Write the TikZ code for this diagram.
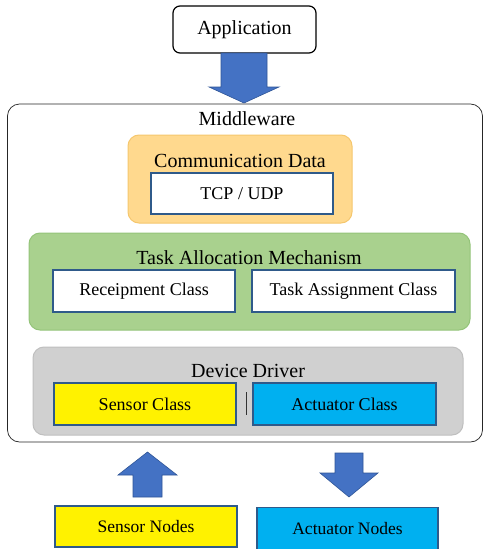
\documentclass[tikz,border=0pt]{standalone}
\usepackage{fontspec}
\setmainfont{Liberation Serif}
\usetikzlibrary{shapes.arrows}
\definecolor{orfill}{HTML}{FFD98E}
\definecolor{ordraw}{HTML}{F5C76E}
\definecolor{grfill}{HTML}{A9D18E}
\definecolor{grdraw}{HTML}{94C47A}
\definecolor{gyfill}{HTML}{D0D0D0}
\definecolor{gydraw}{HTML}{BFBFBF}
\definecolor{arrfill}{HTML}{4472C4}
\definecolor{arrdraw}{HTML}{2F5597}
\definecolor{innerdraw}{HTML}{2F5A8A}
\definecolor{cyanfill}{HTML}{00B0F0}
\begin{document}
\begin{tikzpicture}[x=1pt,y=-1pt,
  box/.style={draw, inner sep=0pt, outer sep=0pt},
  title/.style={inner sep=0pt, font=\fontsize{20}{22}\selectfont},
  inner/.style={draw=innerdraw, line width=1.2pt, inner sep=0pt, font=\fontsize{18}{20}\selectfont},
  bigarrow/.style={fill=arrfill, draw=arrdraw, line width=0.6pt, line join=miter}]
\fill[white] (0,0) rectangle (483,549);
\useasboundingbox (0,0) rectangle (483,549);
% Application
\node[draw=black, line width=1.2pt, rounded corners=7pt, minimum width=143pt, minimum height=47pt, inner sep=0pt, font=\fontsize{20}{22}\selectfont] (app) at (244.5,29.5) {Application};
% Middleware container
\node[draw=black!85, line width=0.7pt, rounded corners=12pt, minimum width=475pt, minimum height=338pt, inner sep=0pt] (mw) at (245,273) {};
\node[title] (mwt) at (247,119) {Middleware};
% Communication Data
\node[fill=orfill, draw=ordraw, line width=1pt, rounded corners=11pt, minimum width=224pt, minimum height=88pt, inner sep=0pt] (cd) at (240,179) {};
\node[title] (cdt) at (240,161) {Communication Data};
\node[inner, fill=white, minimum width=182pt, minimum height=41pt] (tcp) at (242,193.5) {TCP / UDP};
% Task Allocation
\node[fill=grfill, draw=grdraw, line width=1pt, rounded corners=11pt, minimum width=441pt, minimum height=97pt, inner sep=0pt] (ta) at (249.5,281.5) {};
\node[title] (tat) at (249,258) {Task Allocation Mechanism};
\node[inner, fill=white, minimum width=182pt, minimum height=42pt] (rc) at (144,291) {Receipment Class};
\node[inner, fill=white, minimum width=203pt, minimum height=42pt] (tac) at (353.5,291) {Task Assignment Class};
% Device Driver
\node[fill=gyfill, draw=gydraw, line width=1pt, rounded corners=11pt, minimum width=430pt, minimum height=88pt, inner sep=0pt] (dd) at (248,391) {};
\node[title] (ddt) at (248,371) {Device Driver};
\node[inner, fill=yellow, minimum width=182pt, minimum height=42pt] (sc) at (145,404) {Sensor Class};
\node[inner, fill=cyanfill, minimum width=183pt, minimum height=42pt] (ac) at (344.5,404) {Actuator Class};
\coordinate (sepT) at (246,392);
\coordinate (sepB) at (246,415);
\draw[black!80, line width=0.8pt] (sepT) -- (sepB);
% Bottom nodes
\node[inner, fill=yellow, minimum width=182pt, minimum height=41pt, font=\fontsize{17.5}{20}\selectfont] (sn) at (146,526.5) {Sensor Nodes};
\node[inner, fill=cyanfill, minimum width=181pt, minimum height=42pt, font=\fontsize{17.5}{20}\selectfont] (an) at (347.5,528.5) {Actuator Nodes};
% Arrows
\draw[bigarrow] (221,53) -- (267,53) -- (267,87) -- (279,87) -- (244,103) -- (209,87) -- (221,87) -- cycle;
\draw[bigarrow] (133,497) -- (162,497) -- (162,475) -- (177,475) -- (147.5,452) -- (118,475) -- (133,475) -- cycle;
\draw[bigarrow] (335,453) -- (363,453) -- (363,473) -- (378,473) -- (349,497) -- (320,473) -- (335,473) -- cycle;
\end{tikzpicture}
\end{document}
